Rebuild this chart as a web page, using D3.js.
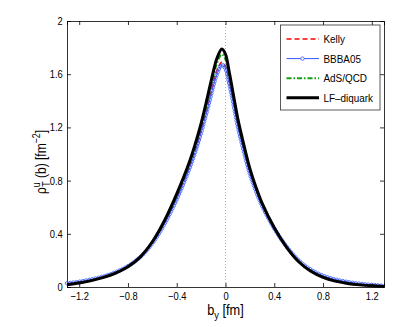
<!DOCTYPE html>
<html lang="en">
<head>
<meta charset="UTF-8">
<script src="https://d3js.org/d3.v7.min.js"></script>
<title>rho_T^u(b)</title>
<style>
  body { margin: 0; background: #fff; }
  svg { display: block; }
  text { font-family: "Liberation Sans", Arial, sans-serif; fill: #000; }
</style>
</head>
<body>
<div id="chart"></div>
<script>
// b_y positions [fm]
const by = [-1.3, -1.2, -1.1, -1.0, -0.9, -0.8, -0.7, -0.6, -0.5, -0.4, -0.3, -0.25, -0.2, -0.15, -0.1, -0.07, -0.03,
            0, 0.03, 0.06, 0.1, 0.15, 0.2, 0.25, 0.3, 0.4, 0.5, 0.6, 0.7, 0.8, 0.9, 1.0, 1.1, 1.2, 1.3];

// rho_T^u(b) [fm^-2] for each parametrization
const kelly = [0.022, 0.035, 0.052, 0.076, 0.108, 0.154, 0.224, 0.332, 0.485, 0.677, 0.9, 1.03, 1.18, 1.36, 1.54, 1.63, 1.69,
               1.66, 1.56, 1.43, 1.24, 1.04, 0.87, 0.735, 0.62, 0.442, 0.302, 0.195, 0.124, 0.078, 0.05, 0.032, 0.02, 0.012, 0.007];
const bbba05 = [0.028, 0.04, 0.057, 0.08, 0.112, 0.157, 0.225, 0.328, 0.475, 0.66, 0.88, 1.01, 1.16, 1.33, 1.51, 1.6, 1.67,
                1.64, 1.53, 1.4, 1.21, 1.02, 0.85, 0.72, 0.61, 0.44, 0.305, 0.2, 0.13, 0.085, 0.057, 0.038, 0.025, 0.016, 0.009];
const adsQcd = [0.019, 0.032, 0.05, 0.074, 0.107, 0.153, 0.226, 0.338, 0.495, 0.69, 0.92, 1.06, 1.21, 1.39, 1.58, 1.68, 1.75,
                1.71, 1.59, 1.45, 1.25, 1.05, 0.88, 0.745, 0.625, 0.444, 0.3, 0.192, 0.12, 0.074, 0.046, 0.029, 0.018, 0.01, 0.006];
const lfDiquark = [0.017, 0.03, 0.048, 0.072, 0.105, 0.152, 0.225, 0.34, 0.5, 0.7, 0.93, 1.07, 1.23, 1.42, 1.62, 1.72, 1.79,
                   1.75, 1.62, 1.47, 1.27, 1.07, 0.89, 0.75, 0.63, 0.445, 0.3, 0.19, 0.118, 0.072, 0.044, 0.027, 0.016, 0.009, 0.005];

const xTicks = [-1.2, -0.8, -0.4, 0, 0.4, 0.8, 1.2];
const yTicks = [0, 0.4, 0.8, 1.2, 1.6, 2];
const legendNames = ["Kelly", "BBBA05", "AdS/QCD", "LF\u2013diquark"];

const W = 409, H = 327;
const m = { left: 67, right: 25, top: 21, bottom: 40 };
const iw = W - m.left - m.right, ih = H - m.top - m.bottom;

const svg = d3.select('#chart').append('svg').attr('width', W).attr('height', H);
const g = svg.append('g').attr('transform', `translate(${m.left},${m.top})`);

const x = d3.scaleLinear().domain([-1.3, 1.3]).range([0, iw]);
const y = d3.scaleLinear().domain([0, 2]).range([ih, 0]);

const fmt = d => (d < 0 ? '\u2212' : '') + Math.abs(d);

// zero line
g.append('line')
  .attr('x1', x(0)).attr('x2', x(0)).attr('y1', 0).attr('y2', ih)
  .attr('stroke', '#999').attr('stroke-width', 0.8).attr('stroke-dasharray', '1,2');

// axes (ticks pointing inwards, on all four sides)
const tk = 4;
g.append('g').attr('transform', `translate(0,${ih})`)
  .call(d3.axisBottom(x).tickValues(xTicks).tickSize(-tk).tickPadding(5).tickFormat(fmt));
g.append('g')
  .call(d3.axisTop(x).tickValues(xTicks).tickSize(-tk).tickFormat(''));
g.append('g')
  .call(d3.axisLeft(y).tickValues(yTicks).tickSize(-tk).tickPadding(5).tickFormat(d => d));
g.append('g').attr('transform', `translate(${iw},0)`)
  .call(d3.axisRight(y).tickValues(yTicks).tickSize(-tk).tickFormat(''));
g.selectAll('.domain').attr('stroke', '#000').attr('stroke-width', 0.8);
g.selectAll('.tick line').attr('stroke', '#000').attr('stroke-width', 0.8);
g.selectAll('.tick text').attr('font-size', 11)
  .attr('font-family', '"Liberation Sans", Arial, sans-serif')
  .attr('transform', 'scale(0.85,1)');

const line = d3.line().x((d, i) => x(by[i])).y(d => y(d)).curve(d3.curveCatmullRom.alpha(0.5));

const series = [
  { name: legendNames[0], values: kelly, color: '#ff0000', width: 1.6, dash: '5,3' },
  { name: legendNames[1], values: bbba05, color: '#3355ff', width: 1, dash: null, marker: true },
  { name: legendNames[2], values: adsQcd, color: '#11a011', width: 2, dash: '5,2,1.5,2' },
  { name: legendNames[3], values: lfDiquark, color: '#000000', width: 3, dash: null }
];

const plot = g.append('g');
series.forEach(s => {
  const p = plot.append('path')
    .attr('d', line(s.values))
    .attr('fill', 'none')
    .attr('stroke', s.color)
    .attr('stroke-width', s.width)
    .attr('stroke-dasharray', s.dash);
  if (s.marker) {
    // small open circles along the curve
    const node = p.node(), len = node.getTotalLength();
    const pts = d3.range(0, len, 3.2).map(l => node.getPointAtLength(l));
    plot.append('g').selectAll('circle').data(pts).join('circle')
      .attr('cx', d => d.x).attr('cy', d => d.y).attr('r', 1.7)
      .attr('fill', 'none').attr('stroke', s.color).attr('stroke-width', 0.8);
  }
});

// legend
const lg = g.append('g').attr('transform', `translate(${280.5 - m.left},${25 - m.top})`);
lg.append('rect').attr('width', 99.5).attr('height', 85)
  .attr('fill', '#fff').attr('stroke', '#333').attr('stroke-width', 0.8);
series.forEach((s, i) => {
  const yy = 14 + i * 19.6;
  lg.append('line').attr('x1', 6).attr('x2', 38.5).attr('y1', yy).attr('y2', yy)
    .attr('stroke', s.color).attr('stroke-width', s.width).attr('stroke-dasharray', s.dash);
  if (s.marker) {
    lg.append('circle').attr('cx', 22).attr('cy', yy).attr('r', 1.7)
      .attr('fill', '#fff').attr('stroke', s.color).attr('stroke-width', 0.8);
  }
  lg.append('text').attr('transform', `translate(43,${yy + 4}) scale(0.9,1)`)
    .attr('font-size', 11).text(s.name);
});

// x label: b_y [fm]
const xl = svg.append('text')
  .attr('transform', `translate(${m.left + x(0)},315) scale(0.85,1)`)
  .attr('text-anchor', 'middle').attr('font-size', 15);
xl.append('tspan').text('b');
xl.append('tspan').attr('dy', 4).attr('font-size', 11).text('y');
xl.append('tspan').attr('dy', -4).text(' [fm]');

// y label: rho^u_T (b) [fm^-2]
const yl = svg.append('text')
  .attr('transform', 'translate(46,162) rotate(-90) scale(0.8,1)')
  .attr('text-anchor', 'middle').attr('font-size', 15);
yl.append('tspan').text('\u03c1');
yl.append('tspan').attr('dy', -6).attr('font-size', 11).text('u');
yl.append('tspan').attr('dy', 10).attr('dx', -5.5).attr('font-size', 11).text('T');
yl.append('tspan').attr('dy', -4).text(' (b) [fm');
yl.append('tspan').attr('dy', -6).attr('font-size', 11).text('\u22122');
yl.append('tspan').attr('dy', 6).text(']');
</script>
</body>
</html>
